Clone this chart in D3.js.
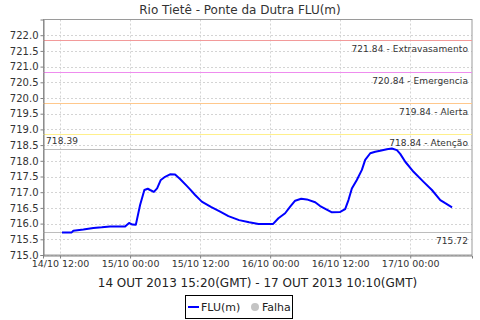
<!DOCTYPE html>
<html><head><meta charset="utf-8">
<script src="https://cdn.jsdelivr.net/npm/d3@7"></script>
<style>
html,body{margin:0;padding:0;background:#fff;}
svg{display:block;}
text{font-family:"DejaVu Sans",sans-serif;}
</style></head>
<body>
<svg id="chart" width="480" height="320"></svg>
<script>
// Local time (GMT-3) timestamps of the FLU(m) series
const times = [
 "2013-10-14 12:20","2013-10-14 14:00","2013-10-14 14:17","2013-10-14 16:00","2013-10-14 17:43",
 "2013-10-14 19:09","2013-10-14 20:34","2013-10-14 23:09","2013-10-14 23:50","2013-10-15 00:24",
 "2013-10-15 00:59","2013-10-15 01:43","2013-10-15 02:27","2013-10-15 03:02","2013-10-15 03:26",
 "2013-10-15 04:05","2013-10-15 04:38","2013-10-15 05:16","2013-10-15 06:00","2013-10-15 06:51",
 "2013-10-15 07:43","2013-10-15 08:34","2013-10-15 09:43","2013-10-15 10:17","2013-10-15 11:09",
 "2013-10-15 12:17","2013-10-15 13:51","2013-10-15 15:26","2013-10-15 16:51","2013-10-15 18:41",
 "2013-10-15 20:24","2013-10-15 22:00","2013-10-16 00:31","2013-10-16 01:25","2013-10-16 02:34",
 "2013-10-16 03:26","2013-10-16 04:17","2013-10-16 05:19","2013-10-16 06:17","2013-10-16 07:43",
 "2013-10-16 08:34","2013-10-16 10:35","2013-10-16 12:00","2013-10-16 12:51","2013-10-16 13:25",
 "2013-10-16 14:00","2013-10-16 14:51","2013-10-16 15:43","2013-10-16 16:17","2013-10-16 17:09",
 "2013-10-16 18:00","2013-10-16 18:51","2013-10-16 20:00","2013-10-16 20:51","2013-10-16 21:43",
 "2013-10-16 22:17","2013-10-16 23:09","2013-10-17 00:34","2013-10-17 02:17","2013-10-17 03:43",
 "2013-10-17 05:09","2013-10-17 06:00","2013-10-17 07:10"
];
const fluValues = [
 715.72,715.72,715.77,715.81,715.86,
 715.88,715.91,715.91,716.02,715.97,
 715.96,716.59,717.07,717.11,717.07,
 717.01,717.12,717.39,717.49,717.57,
 717.56,717.42,717.20,717.09,716.91,
 716.70,716.53,716.38,716.24,716.11,
 716.04,715.99,715.99,716.17,716.33,
 716.54,716.73,716.79,716.77,716.68,
 716.56,716.36,716.37,716.46,716.75,
 717.12,717.39,717.71,718.03,718.24,
 718.29,718.32,718.37,718.39,718.34,
 718.22,717.97,717.65,717.33,717.07,
 716.75,716.65,716.52
];
// Threshold markers
const markerValues = [721.84, 720.84, 719.84, 718.84];
const markerNames  = ["Extravasamento", "Emergencia", "Alerta", "Atenção"];
const markerColors = ["#f29a9a", "#ee8cee", "#ffc88c", "#fff08c"];
const maxValue = 718.39, minValue = 715.72;

const xTickTimes = ["2013-10-14 12:00","2013-10-15 00:00","2013-10-15 12:00","2013-10-16 00:00","2013-10-16 12:00","2013-10-17 00:00"];
const xDomain = ["2013-10-14 09:05","2013-10-17 10:35"];
const yDomain = [715, 722.5];
const yTicks = d3.range(715, 722.01, 0.5);

const title = "Rio Tietê - Ponte da Dutra FLU(m)";
const xLabel = "14 OUT 2013 15:20(GMT) - 17 OUT 2013 10:10(GMT)";
const legendNames = ["FLU(m)", "Falha"];

const parse = d3.utcParse("%Y-%m-%d %H:%M");
const data = times.map((t,i)=>({t:parse(t), v:fluValues[i]}));

const L=43, R=472, T=19.5, B=255;
const svg = d3.select("#chart");
const x = d3.scaleUtc().domain(xDomain.map(parse)).range([L,R]);
const y = d3.scaleLinear().domain(yDomain).range([B,T]);

// grid
const grid = svg.append("g");
grid.selectAll("line.gy").data(yTicks).join("line")
  .attr("x1",L).attr("x2",R).attr("y1",d=>Math.round(y(d))+0.5).attr("y2",d=>Math.round(y(d))+0.5)
  .attr("stroke","#d4d4d4").attr("stroke-dasharray","2,2");
grid.selectAll("line.gx").data(xTickTimes.map(parse)).join("line")
  .attr("y1",T).attr("y2",B).attr("x1",d=>Math.round(x(d))+0.5).attr("x2",d=>Math.round(x(d))+0.5)
  .attr("stroke","#d4d4d4").attr("stroke-dasharray","2,2");

// plot outline
svg.append("rect").attr("x",L+0.5).attr("y",T).attr("width",R-L-0.5).attr("height",B-T)
  .attr("fill","none").attr("stroke","#9a9a9a");

// threshold lines
const mk = svg.append("g");
const lblStyle = s => s.attr("font-size","9px").attr("fill","#333").attr("letter-spacing","0.1");
markerValues.forEach((v,i)=>{
  const yy = Math.round(y(v))+0.5;
  mk.append("line").attr("x1",L).attr("x2",R).attr("y1",yy).attr("y2",yy).attr("stroke",markerColors[i]).attr("stroke-width",1.2);
  mk.append("text").attr("x",468).attr("y",yy+11.5).attr("text-anchor","end")
    .call(lblStyle).text(d3.format(".2f")(v)+" - "+markerNames[i]);
});
[maxValue,minValue].forEach(v=>{
  const yy = Math.round(y(v))+0.5;
  mk.append("line").attr("x1",L).attr("x2",R).attr("y1",yy).attr("y2",yy).attr("stroke","#bdbdbd").attr("stroke-width",1.2);
});
mk.append("text").attr("x",46).attr("y",Math.round(y(maxValue))-5).call(lblStyle).text(d3.format(".2f")(maxValue));
mk.append("text").attr("x",468).attr("y",Math.round(y(minValue))+11.5).attr("text-anchor","end").call(lblStyle).text(d3.format(".2f")(minValue));

// series
svg.append("path").datum(data)
  .attr("d", d3.line().x(d=>x(d.t)).y(d=>y(d.v)))
  .attr("fill","none").attr("stroke","#0000ff").attr("stroke-width",2).attr("stroke-linejoin","round");

// axes
const yAxis = svg.append("g").attr("transform",`translate(${L+0.5},0)`)
  .call(d3.axisLeft(y).tickValues(yTicks).tickFormat(d3.format(".1f")).tickSize(3).tickPadding(2));
const xAxis = svg.append("g").attr("transform",`translate(0,${B+0.5})`)
  .call(d3.axisBottom(x).tickValues(xTickTimes.map(parse)).tickFormat(d3.utcFormat("%d/%m %H:%M")).tickSize(3).tickPadding(2));
[yAxis,xAxis].forEach(a=>{
  a.select(".domain").attr("stroke","#808080");
  a.selectAll(".tick line").attr("stroke","#808080");
  a.selectAll("text").attr("font-family","DejaVu Sans, sans-serif").attr("font-size","10px").attr("fill","#333");
});
xAxis.selectAll("text").attr("font-size","9.5px");

// title and axis label
svg.append("text").attr("x",240).attr("y",13.5).attr("text-anchor","middle").attr("font-size","12px").attr("fill","#333").text(title);
svg.append("text").attr("x",(L+R)/2).attr("y",286.5).attr("text-anchor","middle").attr("font-size","12px").attr("fill","#222").text(xLabel);

// legend
const lg = svg.append("g");
lg.append("rect").attr("x",185.5).attr("y",295.5).attr("width",107).attr("height",23).attr("fill","#fff").attr("stroke","#000");
lg.append("line").attr("x1",188).attr("x2",199).attr("y1",307).attr("y2",307).attr("stroke","#0000ff").attr("stroke-width",2);
lg.append("text").attr("x",201).attr("y",311).attr("font-size","11px").attr("fill","#222").text(legendNames[0]);
lg.append("circle").attr("cx",255).attr("cy",307).attr("r",4).attr("fill","#c4c4c4");
lg.append("text").attr("x",262).attr("y",311).attr("font-size","11px").attr("fill","#222").text(legendNames[1]);
</script>
</body></html>
